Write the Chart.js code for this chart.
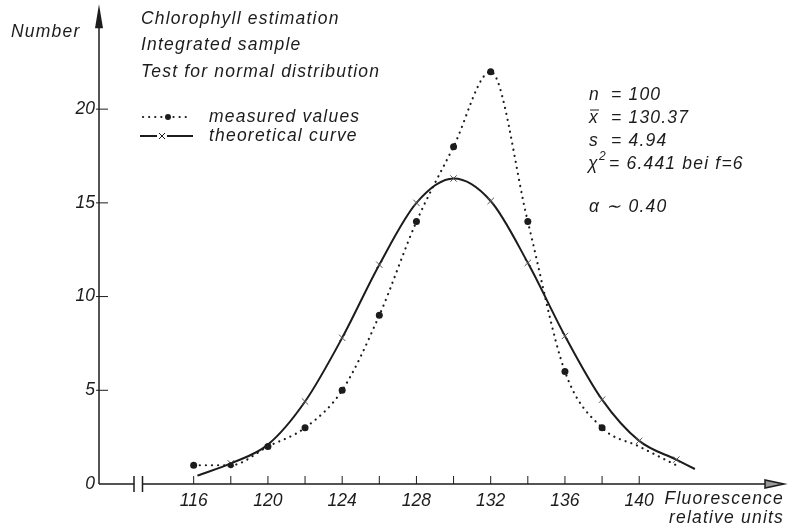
<!DOCTYPE html>
<html lang="en">

<head>
    <meta charset="UTF-8">
    <title>Chlorophyll estimation</title>
    <script src="https://cdn.jsdelivr.net/npm/chart.js"></script>
    <style>
        body { margin: 0; background: #fff; }
        #grafico { display: block; }
    </style>
</head>

<body>
    <canvas id="grafico" width="789" height="524"></canvas>
</body>

</html>

<script>

    // valores
    var xMedidos = [116, 118, 120, 122, 124, 126, 128, 130, 132, 134, 136, 138, 140, 142];
    var medidos = [1, 1, 2, 3, 5, 9, 14, 18, 22, 14, 6, 3, 2, 1];

    var xTeorico = [116.2, 118, 120, 122, 124, 126, 128, 130, 132, 134, 136, 138, 140, 142, 143];
    var teorico = [0.45, 1.1, 2.1, 4.4, 7.8, 11.7, 15.0, 16.3, 15.1, 11.8, 7.9, 4.5, 2.3, 1.3, 0.8];

    var xTicks = [116, 118, 120, 122, 124, 126, 128, 130, 132, 134, 136, 138, 140];
    var xTickLabels = [116, 120, 124, 128, 132, 136, 140];
    var yTicks = [0, 5, 10, 15, 20];

    var titulos = ['Chlorophyll estimation', 'Integrated sample', 'Test for normal distribution'];
    var legendas = ['measured values', 'theoretical curve'];

    var fonte = 'italic 17.5px "Liberation Sans", sans-serif';
    var cor = '#1c1c1c';

    var ctx1 = document.getElementById('grafico');

    function pontosDe(xs, ys) {
        var lista = [];
        for (var i = 0; i < xs.length; i++) {
            lista.push({ x: xs[i], y: ys[i] });
        }
        return lista;
    }

    // eixos com quebra, setas e textos
    var desenhoExtra = {
        id: 'desenhoExtra',
        beforeDatasetsDraw: function (chart) {
            var c = chart.ctx;
            var area = chart.chartArea;
            var sx = chart.scales.x;
            var sy = chart.scales.y;
            var x0 = area.left;
            var y0 = sy.getPixelForValue(0);
            var topo = sy.getPixelForValue(25.6);

            c.save();
            c.strokeStyle = cor;
            c.fillStyle = cor;
            c.lineWidth = 1.5;

            // eixo y com seta
            c.beginPath();
            c.moveTo(x0, y0);
            c.lineTo(x0, topo + 10);
            c.stroke();
            c.beginPath();
            c.moveTo(x0, topo);
            c.lineTo(x0 - 4, topo + 24);
            c.lineTo(x0 + 4, topo + 24);
            c.closePath();
            c.fill();

            // eixo x com quebra
            c.beginPath();
            c.moveTo(x0, y0);
            c.lineTo(x0 + 35, y0);
            c.moveTo(x0 + 43.5, y0);
            c.lineTo(area.right - 10, y0);
            c.moveTo(x0 + 35, y0 - 8);
            c.lineTo(x0 + 35, y0 + 8);
            c.moveTo(x0 + 43.5, y0 - 8);
            c.lineTo(x0 + 43.5, y0 + 8);
            c.stroke();
            c.beginPath();
            c.moveTo(area.right, y0);
            c.lineTo(area.right - 19, y0 - 4);
            c.lineTo(area.right - 19, y0 + 4);
            c.closePath();
            c.fillStyle = '#999';
            c.fill();
            c.stroke();

            // marcas dos ticks
            c.lineWidth = 1;
            xTicks.forEach(function (v) {
                var px = sx.getPixelForValue(v);
                c.beginPath();
                c.moveTo(px, y0);
                c.lineTo(px, y0 - 8);
                c.stroke();
            });
            yTicks.forEach(function (v) {
                if (v == 0) return;
                var py = sy.getPixelForValue(v);
                c.beginPath();
                c.moveTo(x0 - 3, py);
                c.lineTo(x0 + 9, py);
                c.stroke();
            });

            // textos
            c.fillStyle = cor;
            c.font = fonte;
            c.letterSpacing = '1.2px';
            c.textBaseline = 'middle';
            c.textAlign = 'left';
            c.fillText('Number', 11, 32);
            titulos.forEach(function (t, i) {
                c.fillText(t, 141, 19 + i * 26.5);
            });

            // legenda
            c.fillText(legendas[0], 209, 117);
            c.fillText(legendas[1], 209, 136);
            c.lineCap = 'round';
            c.lineWidth = 2.2;
            c.setLineDash([0.1, 6]);
            c.beginPath();
            c.moveTo(143, 117);
            c.lineTo(190, 117);
            c.stroke();
            c.setLineDash([]);
            c.beginPath();
            c.arc(168, 117, 3, 0, Math.PI * 2);
            c.fill();
            c.lineCap = 'butt';
            c.lineWidth = 2;
            c.beginPath();
            c.moveTo(140, 136);
            c.lineTo(157, 136);
            c.moveTo(167, 136);
            c.lineTo(193, 136);
            c.stroke();
            c.lineWidth = 1;
            c.beginPath();
            c.moveTo(159, 133);
            c.lineTo(165, 139);
            c.moveTo(165, 133);
            c.lineTo(159, 139);
            c.stroke();

            // estatisticas
            c.fillText('n', 589, 95);
            c.fillText('= 100', 611, 95);
            c.fillText('x', 589, 118);
            c.beginPath();
            c.moveTo(590, 110);
            c.lineTo(599, 110);
            c.stroke();
            c.fillText('= 130.37', 611, 118);
            c.fillText('s', 589, 141);
            c.fillText('= 4.94', 611, 141);
            c.fillText('\u03C7', 588, 164);
            c.font = 'italic 12px "Liberation Sans", sans-serif';
            c.fillText('2', 599, 157);
            c.font = fonte;
            c.fillText('= 6.441 bei f=6', 609, 164);
            c.fillText('\u03B1 \u223C 0.40', 589, 207);

            // titulo do eixo x
            c.textAlign = 'right';
            c.fillText('Fluorescence', 784, 499);
            c.fillText('relative units', 784, 518);
            c.restore();
        }
    };

    new Chart(ctx1, {
        type: 'scatter',
        data: {
            datasets: [{
                label: legendas[0],
                data: pontosDe(xMedidos, medidos),
                showLine: true,
                borderColor: cor,
                backgroundColor: cor,
                borderWidth: 2.2,
                borderDash: [0.1, 6],
                borderCapStyle: 'round',
                cubicInterpolationMode: 'monotone',
                pointRadius: [3.5, 3, 3.5, 3.5, 3.5, 3.5, 3.5, 3.5, 3.5, 3.5, 3.5, 3.5, 0, 0],
                pointBorderWidth: 0
            }, {
                label: legendas[1],
                data: pontosDe(xTeorico, teorico),
                showLine: true,
                borderColor: cor,
                borderWidth: 2,
                cubicInterpolationMode: 'monotone',
                pointStyle: 'crossRot',
                pointRadius: [0, 4.5, 0, 4.5, 4.5, 4.5, 4.5, 4.5, 4.5, 4.5, 4.5, 4.5, 4.5, 4.5, 0],
                pointBorderWidth: 1,
                pointBorderColor: '#555'
            }]
        },
        options: {
            responsive: false,
            animation: false,
            layout: {
                padding: { top: 2, right: 5, left: 0, bottom: 0 }
            },
            plugins: {
                legend: { display: false },
                tooltip: { enabled: false }
            },
            scales: {
                x: {
                    type: 'linear',
                    min: 110.9,
                    max: 147.8,
                    afterFit: function (s) { s.height = 40; },
                    afterBuildTicks: function (s) {
                        s.ticks = xTicks.map(function (v) { return { value: v }; });
                    },
                    ticks: {
                        autoSkip: false,
                        maxRotation: 0,
                        padding: 7,
                        color: cor,
                        font: { family: '"Liberation Sans", sans-serif', style: 'italic', size: 17.5 },
                        callback: function (v) {
                            return xTickLabels.indexOf(v) >= 0 ? String(v) : '';
                        }
                    },
                    grid: { display: false, drawTicks: false },
                    border: { display: false }
                },
                y: {
                    min: 0,
                    max: 25.05,
                    afterFit: function (s) { s.width = 99; },
                    afterBuildTicks: function (s) {
                        s.ticks = yTicks.map(function (v) { return { value: v }; });
                    },
                    ticks: {
                        padding: 4,
                        color: cor,
                        font: { family: '"Liberation Sans", sans-serif', style: 'italic', size: 17.5 }
                    },
                    grid: { display: false, drawTicks: false },
                    border: { display: false }
                }
            }
        },
        plugins: [desenhoExtra]
    });

</script>
